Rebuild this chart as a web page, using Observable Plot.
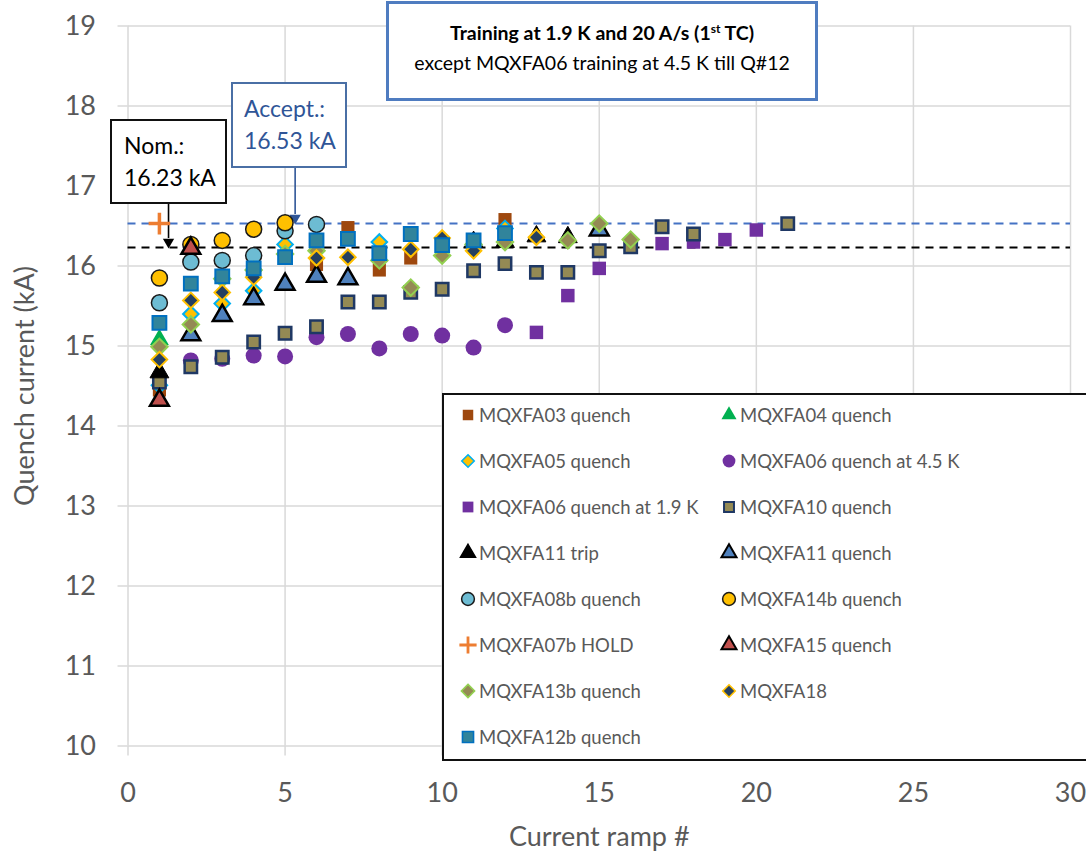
<!DOCTYPE html>
<html>
<head>
<meta charset="utf-8">
<script src="https://cdn.jsdelivr.net/npm/d3@7"></script>
<script src="https://cdn.jsdelivr.net/npm/@observablehq/plot@0.6"></script>
<style>
  html, body { margin: 0; padding: 0; background: #fff; }
  #wrap { position: relative; width: 1086px; height: 854px; overflow: hidden; font-family: Lato, "Liberation Sans", sans-serif; }
  .box { position: absolute; background: #fff; box-sizing: border-box; }
  #legend { position: absolute; left: 442px; top: 393px; width: 660px; height: 368px; border: 2px solid #111; background: #fff; box-sizing: border-box; }
</style>
</head>
<body>
<div id="wrap"></div>
<script>
// ---------------- data ----------------
const xTicks = [0, 5, 10, 15, 20, 25, 30];
const yTicks = [10, 11, 12, 13, 14, 15, 16, 17, 18, 19];
const nominal = 16.23;
const acceptance = 16.53;

const seriesNames = [
  "MQXFA03 quench", "MQXFA04 quench", "MQXFA05 quench", "MQXFA06 quench at 4.5 K",
  "MQXFA06 quench at 1.9 K", "MQXFA10 quench", "MQXFA11 trip", "MQXFA11 quench",
  "MQXFA08b quench", "MQXFA14b quench", "MQXFA07b HOLD", "MQXFA15 quench",
  "MQXFA13b quench", "MQXFA18", "MQXFA12b quench"
];

const a03_x = [1, 6, 7, 8, 9, 12];
const a03_y = [14.45, 16.02, 16.48, 15.95, 16.10, 16.58];
const a04_x = [1];
const a04_y = [15.08];
const a05_x = [1, 2, 3, 4, 5, 8, 12];
const a05_y = [14.51, 15.40, 15.53, 15.69, 16.27, 16.30, 16.47];
const a06w_x = [2, 3, 4, 5, 6, 7, 8, 9, 10, 11, 12];
const a06w_y = [14.82, 14.84, 14.88, 14.87, 15.11, 15.15, 14.97, 15.15, 15.13, 14.98, 15.26];
const a06c_x = [13, 14, 15, 16, 17, 18, 19, 20];
const a06c_y = [15.17, 15.63, 15.97, 16.25, 16.28, 16.30, 16.33, 16.45];
const a10_x = [1, 2, 3, 4, 5, 6, 7, 8, 9, 10, 11, 12, 13, 14, 15, 16, 17, 18, 21];
const a10_y = [14.55, 14.74, 14.86, 15.05, 15.16, 15.24, 15.55, 15.55, 15.67, 15.71, 15.94, 16.03, 15.92, 15.92, 16.19, 16.24, 16.49, 16.40, 16.53];
const a11t_x = [1, 11, 12, 13, 14];
const a11t_y = [14.67, 16.30, 16.30, 16.37, 16.36];
const a11q_x = [2, 3, 4, 5, 6, 7, 15];
const a11q_y = [15.14, 15.38, 15.59, 15.77, 15.87, 15.84, 16.45];
const a08b_x = [1, 2, 3, 4, 5, 6];
const a08b_y = [15.54, 16.05, 16.07, 16.13, 16.44, 16.52];
const a14b_x = [1, 2, 3, 4, 5];
const a14b_y = [15.85, 16.27, 16.32, 16.46, 16.54];
const a07b_x = [1];
const a07b_y = [16.53];
const a15_x = [1, 2];
const a15_y = [14.32, 16.22];
const a13b_x = [1, 2, 3, 4, 5, 6, 8, 9, 10, 11, 12, 14, 15, 16];
const a13b_y = [14.99, 15.27, 15.84, 15.95, 16.15, 16.19, 16.07, 15.73, 16.13, 16.27, 16.30, 16.32, 16.53, 16.33];
const a18_x = [1, 2, 3, 4, 6, 7, 9, 10, 11, 13];
const a18_y = [14.83, 15.57, 15.67, 15.86, 16.10, 16.11, 16.21, 16.35, 16.19, 16.36];
const a12b_x = [1, 2, 3, 4, 5, 6, 7, 8, 9, 10, 11, 12];
const a12b_y = [15.29, 15.78, 15.87, 15.97, 16.11, 16.32, 16.34, 16.16, 16.40, 16.26, 16.32, 16.41];

// ---------------- styles ----------------
const seriesX = [a03_x, a04_x, a05_x, a06w_x, a06c_x, a10_x, a11t_x, a11q_x, a08b_x, a14b_x, a07b_x, a15_x, a13b_x, a18_x, a12b_x];
const seriesY = [a03_y, a04_y, a05_y, a06w_y, a06c_y, a10_y, a11t_y, a11q_y, a08b_y, a14b_y, a07b_y, a15_y, a13b_y, a18_y, a12b_y];
const seriesStyle = [
  {symbol: "square",   fill: "#9E480E", stroke: "none",    sw: 0,   r: 7.4},
  {symbol: "triangle", fill: "#00B050", stroke: "none",    sw: 0,   r: 7.0},
  {symbol: "diamond2", fill: "#FFC000", stroke: "#00B0F0", sw: 2,   r: 7.0},
  {symbol: "circle",   fill: "#7030A0", stroke: "none",    sw: 0,   r: 8.0},
  {symbol: "square",   fill: "#7030A0", stroke: "none",    sw: 0,   r: 7.6},
  {symbol: "square",   fill: "#948A54", stroke: "#1F3864", sw: 2.5, r: 7.0},
  {symbol: "triangle", fill: "#000000", stroke: "#000000", sw: 1,   r: 7.0},
  {symbol: "triangle", fill: "#4F81BD", stroke: "#000000", sw: 2.5, r: 7.0},
  {symbol: "circle",   fill: "#6DBCD3", stroke: "#1a1a1a", sw: 1.5, r: 8.0},
  {symbol: "circle",   fill: "#FFC000", stroke: "#1a1a1a", sw: 1.5, r: 8.0},
  {symbol: "plus",     fill: "none",    stroke: "#ED7D31", sw: 3.5, r: 7.0},
  {symbol: "triangle", fill: "#C0504D", stroke: "#000000", sw: 2.5, r: 7.0},
  {symbol: "diamond2", fill: "#948A54", stroke: "#92D050", sw: 2,   r: 7.4},
  {symbol: "diamond2", fill: "#254061", stroke: "#FFC000", sw: 2,   r: 7.0},
  {symbol: "square",   fill: "#31849B", stroke: "#0070C0", sw: 2,   r: 7.8}
];

const records = seriesNames.map((name, i) => seriesX[i].map((x, j) => ({name, x, y: seriesY[i][j]})));

const refLines = [
  {y: acceptance, stroke: "#4472C4"},
  {y: nominal, stroke: "#000000"}
];
const arrows = [
  {x: 1.29, y1: 16.78, y2: nominal, color: "#000000"},
  {x: 5.32, y1: 17.23, y2: acceptance, color: "#2F5597"}
];

const fontStack = "Lato, 'Liberation Sans', sans-serif";

const chart = Plot.plot({
  width: 1086,
  height: 854,
  marginLeft: 127.5,
  marginRight: 16,
  marginTop: 25.5,
  marginBottom: 108.5,
  x: {domain: [0, 30]},
  y: {domain: [10, 19]},
  style: {fontFamily: fontStack, fontSize: "27px", color: "#595959", background: "transparent", overflow: "visible"},
  marks: [
    Plot.ruleY(yTicks, {y: d => d, stroke: "#d9d9d9", strokeWidth: 1.5}),
    Plot.ruleX(xTicks, {x: d => d, stroke: "#d9d9d9", strokeWidth: 1.5}),
    Plot.axisY(yTicks, {tickSize: 10, tickPadding: 22, stroke: "#d9d9d9", strokeWidth: 1.5, fontSize: 27,
      tickFormat: d => String(d),
      label: "Quench current (kA)", labelAnchor: "center", labelOffset: 113, labelArrow: "none"}),
    Plot.axisX(xTicks, {tickSize: 10, tickPadding: 27, stroke: "#d9d9d9", strokeWidth: 1.5, fontSize: 27,
      tickFormat: d => String(d),
      label: "Current ramp #", labelAnchor: "center", labelOffset: 100, labelArrow: "none"}),
    Plot.ruleY(refLines, {y: "y", x1: 0, x2: 30, stroke: "stroke", strokeWidth: 2, strokeDasharray: "8,6"}),
    Plot.link(arrows, {x1: "x", x2: "x", y1: "y1", y2: d => d.y2 + 0.12, stroke: "color", strokeWidth: 1.6}),
    Plot.dot(arrows, {x: "x", y: d => d.y2 + 0.07, symbol: "triangle", rotate: 180, r: 4.2, fill: "color", stroke: "none"}),
    ...records.map((data, i) => {
      const s = seriesStyle[i];
      return Plot.dot(data, {x: "x", y: "y", symbol: s.symbol, r: s.r, fill: s.fill, stroke: s.stroke, strokeWidth: s.sw, fillOpacity: 1});
    })
  ]
});

const wrap = document.getElementById("wrap");
wrap.appendChild(chart);

// ---------------- text boxes ----------------
function addBox(left, top, w, h, border, html) {
  const d = document.createElement("div");
  d.className = "box";
  d.style.left = left + "px"; d.style.top = top + "px";
  d.style.width = w + "px"; d.style.height = h + "px";
  d.style.border = border;
  d.innerHTML = html;
  wrap.appendChild(d);
  return d;
}
addBox(386, 1, 432, 100, "3px solid #4F7CC0",
  `<div style="position:absolute;left:0;right:0;top:17px;text-align:center;font-weight:bold;font-size:19.5px;color:#000;">Training at 1.9 K and 20 A/s (1<sup style="font-size:12px;vertical-align:7px;line-height:0">st</sup> TC)</div>
   <div style="position:absolute;left:0;right:0;top:47px;text-align:center;font-size:19.5px;color:#000;">except MQXFA06 training at 4.5 K till Q#12</div>`);
addBox(110, 119, 117, 85, "2px solid #111",
  `<div style="position:absolute;left:12px;top:8px;font-size:23px;line-height:32px;color:#000;">Nom.:<br>16.23 kA</div>`);
addBox(231, 82, 116, 86, "2px solid #4A6FA5",
  `<div style="position:absolute;left:11px;top:8px;font-size:23px;line-height:32px;color:#2F5597;">Accept.:<br>16.53 kA</div>`);

// ---------------- legend ----------------
const legend = document.createElement("div");
legend.id = "legend";
wrap.appendChild(legend);
const symbolMap = {square: d3.symbolSquare, triangle: d3.symbolTriangle, diamond2: d3.symbolDiamond2, circle: d3.symbolCircle, plus: d3.symbolPlus};
seriesNames.forEach((name, i) => {
  const col = i % 2, row = Math.floor(i / 2);
  const s = seriesStyle[i];
  const item = document.createElement("div");
  item.style.cssText = `position:absolute;left:${col ? 277 : 16}px;top:${row * 46 + 6}px;height:28px;display:flex;align-items:center;white-space:nowrap;`;
  const svg = d3.create("svg").attr("width", 16).attr("height", 16).style("margin-right", "3px").style("overflow", "visible");
  const scale = 0.8;
  const size = Math.PI * (s.r * scale) ** 2;
  svg.append("path")
    .attr("transform", "translate(8,8)")
    .attr("d", d3.symbol(symbolMap[s.symbol], size)())
    .attr("fill", s.fill)
    .attr("stroke", s.stroke)
    .attr("stroke-width", s.sw ? Math.max(1.5, s.sw * 0.8) : 0);
  item.appendChild(svg.node());
  const t = document.createElement("span");
  t.textContent = name;
  t.style.cssText = "font-size:18.5px;color:#595959;";
  item.appendChild(t);
  legend.appendChild(item);
});
</script>
</body>
</html>
